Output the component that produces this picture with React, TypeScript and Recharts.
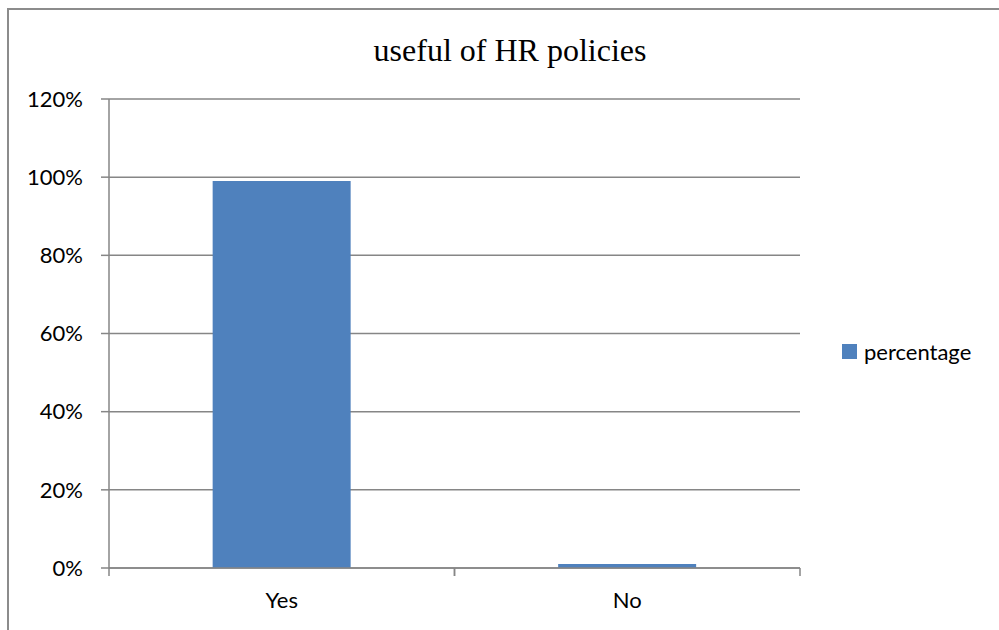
import React from 'react';
import { BarChart, Bar, XAxis, YAxis, CartesianGrid, Legend } from 'recharts';

const categories = ['Yes', 'No'];
const percentage = [0.99, 0.01];
const yTicks = [0, 0.2, 0.4, 0.6, 0.8, 1.0, 1.2];

const data = categories.map((name, i) => ({ name, percentage: percentage[i] }));

const axisGray = '#868686';
const barBlue = '#4F81BD';
const labelFont = 'Lato, "Open Sans", sans-serif';

// category label plus tick marks on the band edges (Excel style)
const CategoryTick = (props: any) => {
  const { x, y, payload } = props;
  const half = payload?.offset ?? 0;
  const axisY = y - 24;
  return (
    <g>
      <line x1={x - half} x2={x - half} y1={axisY} y2={axisY + 8} stroke={axisGray} strokeWidth={1.5} />
      <line x1={x + half} x2={x + half} y1={axisY} y2={axisY + 8} stroke={axisGray} strokeWidth={1.5} />
      <text x={x} y={y} dy="0.71em" textAnchor="middle" fill="#000" fontSize={22} fontFamily={labelFont}>
        {payload.value}
      </text>
    </g>
  );
};

const LegendContent = () => (
  <div style={{ display: 'flex', alignItems: 'center', fontFamily: labelFont, fontSize: 22, color: '#000' }}>
    <div style={{ width: 15, height: 15, background: barBlue, marginRight: 7 }} />
    <span>percentage</span>
  </div>
);

const App: React.FC = () => (
  <div style={{ position: 'absolute', left: 0, top: 0, width: 999, height: 630, background: '#fff', overflow: 'hidden' }}>
    {/* outer frame, only top and left edges show */}
    <div
      style={{
        position: 'absolute',
        left: 7,
        top: 8,
        width: 1100,
        height: 700,
        borderTop: '2px solid #8c8c8c',
        borderLeft: '2px solid #8c8c8c',
      }}
    />
    <div
      style={{
        position: 'absolute',
        left: 260,
        top: 34,
        width: 500,
        textAlign: 'center',
        fontFamily: '"Liberation Serif", "Times New Roman", serif',
        fontSize: 32,
        lineHeight: '32px',
        color: '#000',
      }}
    >
      useful of HR policies
    </div>
    <div style={{ position: 'absolute', left: 0, top: 0 }}>
      {/* legend box (160px) is added to the right margin by recharts */}
      <BarChart width={999} height={630} data={data} margin={{ top: 99, right: 39, bottom: 0, left: 0 }} barCategoryGap="30%">
        <CartesianGrid horizontal vertical={false} stroke={axisGray} strokeWidth={1.5} />
        <XAxis
          dataKey="name"
          axisLine={{ stroke: axisGray, strokeWidth: 1.5 }}
          tickLine={false}
          tickSize={0}
          tickMargin={24}
          height={62}
          interval={0}
          tick={<CategoryTick />}
        />
        <YAxis
          domain={[0, 1.2]}
          ticks={yTicks}
          width={109}
          axisLine={{ stroke: axisGray, strokeWidth: 1.5 }}
          tickLine={{ stroke: axisGray, strokeWidth: 1.5 }}
          tickSize={8}
          tickMargin={18}
          tickFormatter={(v: number) => `${Math.round(v * 100)}%`}
          tick={{ fill: '#000', fontSize: 22, fontFamily: labelFont }}
        />
        <Legend
          layout="vertical"
          align="right"
          verticalAlign="middle"
          content={<LegendContent />}
          wrapperStyle={{ left: 842, top: 338, width: 160 }}
        />
        <Bar dataKey="percentage" fill={barBlue} isAnimationActive={false} />
      </BarChart>
    </div>
  </div>
);

export default App;
